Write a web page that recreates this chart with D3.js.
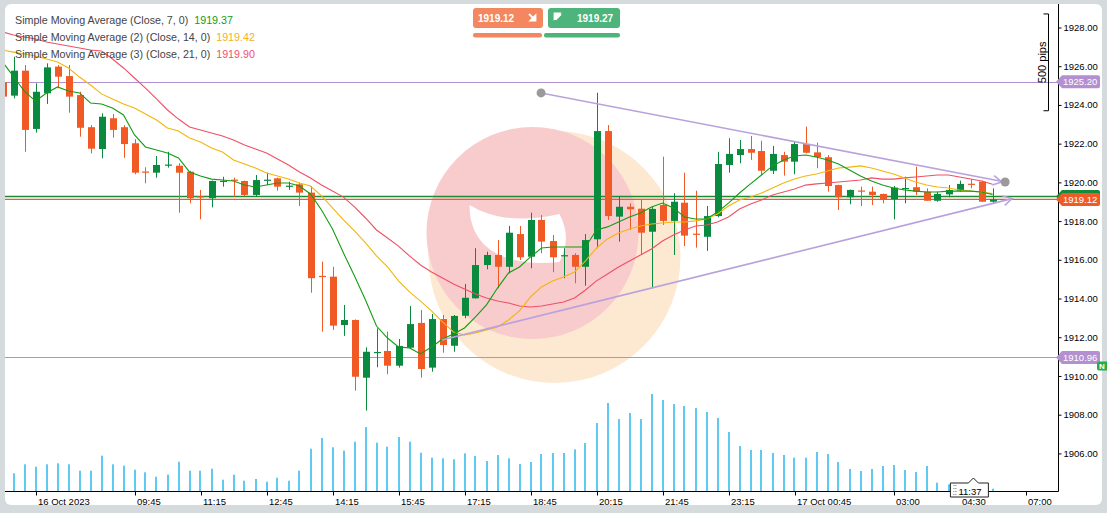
<!DOCTYPE html>
<html><head><meta charset="utf-8">
<script src="https://cdn.jsdelivr.net/npm/d3@7"></script>
<style>
html,body{margin:0;padding:0;background:#d5dadd;overflow:hidden;}
svg{display:block;font-family:"Liberation Sans",Arial,sans-serif;}
</style></head><body>
<svg id="c" width="1107" height="513"></svg>
<script>
// ---------- DATA ----------
const firstBar = -1; // index of first candle (partly hidden at left edge)
const opens  = [1925.17,1924.48,1925.77,1922.76,1924.60,1925.98,1925.49,1924.51,1922.85,1921.72,1923.31,1922.85,1922.02,1920.56,1920.50,1920.88,1920.86,1920.55,1919.28,1919.18,1920.05,1920.14,1920.07,1919.35,1920.10,1920.21,1919.80,1919.90,1919.47,1915.17,1915.13,1912.63,1912.89,1909.91,1911.20,1911.29,1910.53,1911.46,1912.74,1910.43,1912.94,1911.56,1913.11,1914.01,1915.73,1916.25,1915.64,1917.33,1916.16,1918.06,1916.97,1916.20,1916.25,1915.64,1917.06,1922.65,1918.23,1918.74,1918.64,1917.45,1918.83,1918.01,1918.95,1917.35,1917.19,1918.26,1920.90,1921.41,1921.72,1921.62,1920.60,1921.41,1921.07,1921.98,1921.55,1921.30,1919.86,1919.23,1919.58,1919.52,1919.40,1919.13,1919.68,1919.75,1919.52,1919.05,1919.38,1919.57,1919.93,1920.04,1919.00];
const highs  = [1925.40,1926.49,1926.06,1925.12,1926.15,1926.06,1926.06,1924.68,1922.96,1923.57,1923.53,1922.96,1922.23,1920.78,1921.36,1921.58,1920.99,1920.60,1919.61,1920.09,1920.29,1920.24,1920.09,1920.38,1920.50,1920.24,1920.03,1919.98,1919.81,1915.90,1915.64,1913.67,1912.92,1911.48,1912.46,1912.29,1911.91,1913.61,1913.41,1913.20,1913.15,1913.15,1914.75,1916.60,1916.42,1917.02,1917.75,1917.75,1918.43,1918.31,1917.28,1916.60,1916.34,1917.33,1924.63,1922.96,1919.26,1918.92,1919.09,1918.74,1921.33,1919.44,1920.50,1919.57,1918.78,1921.58,1922.28,1922.19,1922.40,1922.15,1921.88,1921.58,1922.14,1922.88,1922.05,1921.41,1919.88,1919.63,1919.78,1919.78,1919.42,1919.81,1920.29,1920.81,1919.69,1919.52,1919.86,1920.09,1920.16,1920.09,1919.69];
const lows   = [1924.30,1924.34,1921.58,1922.57,1924.05,1924.86,1923.60,1922.36,1921.50,1921.24,1922.31,1921.27,1920.42,1919.95,1920.24,1920.76,1918.43,1918.92,1918.09,1918.71,1919.78,1919.26,1919.30,1919.26,1919.86,1919.57,1919.61,1918.78,1914.30,1912.29,1912.38,1912.07,1909.24,1908.21,1910.45,1910.09,1910.43,1911.44,1909.91,1910.22,1911.20,1911.25,1912.98,1914.00,1915.51,1914.53,1915.30,1915.99,1915.56,1916.34,1915.36,1915.05,1914.79,1914.66,1916.60,1918.06,1916.94,1917.54,1916.25,1914.53,1917.80,1916.25,1916.71,1916.63,1916.46,1918.20,1920.50,1920.99,1921.16,1920.38,1920.43,1920.35,1920.42,1921.50,1920.73,1919.52,1918.57,1918.87,1918.78,1918.83,1918.92,1918.09,1918.92,1919.35,1919.05,1919.00,1919.23,1919.52,1919.69,1919.00,1918.88];
const closes = [1924.43,1925.77,1922.71,1924.68,1925.94,1925.46,1924.43,1922.82,1921.74,1923.39,1922.71,1921.98,1920.50,1920.53,1920.90,1920.92,1920.50,1919.18,1919.26,1920.07,1920.08,1920.12,1919.35,1920.12,1920.14,1919.78,1919.83,1919.47,1915.05,1915.14,1912.60,1912.89,1909.96,1911.25,1911.24,1910.53,1911.55,1912.68,1910.36,1912.94,1911.60,1913.10,1914.04,1915.73,1916.25,1915.64,1917.40,1916.13,1918.06,1916.94,1916.13,1916.24,1915.64,1917.02,1922.65,1918.26,1918.74,1918.61,1917.40,1918.63,1918.01,1919.00,1917.25,1917.32,1918.26,1920.95,1921.47,1921.72,1921.53,1920.60,1921.47,1921.07,1921.98,1921.53,1921.30,1919.81,1919.23,1919.61,1919.56,1919.35,1919.13,1919.73,1919.71,1919.52,1919.05,1919.40,1919.61,1919.92,1919.91,1919.00,1919.12];
const volumes = [150,177,267,243,267,277,267,203,203,353,267,253,213,187,143,163,293,203,203,223,113,163,103,120,93,133,103,203,423,530,437,403,493,640,483,443,540,493,383,333,327,317,377,350,300,360,327,270,290,370,380,380,417,480,680,880,720,780,720,970,910,870,850,830,790,730,590,450,410,410,380,360,333,333,390,370,290,220,200,220,250,260,210,190,250,83,67,50,40,50,23];
const sma7  = [1926.22,1925.47,1924.70,1924.20,1924.62,1924.93,1924.72,1924.62,1924.10,1924.05,1923.84,1923.48,1922.45,1921.83,1921.67,1921.52,1921.26,1920.54,1920.33,1920.17,1920.12,1920.07,1919.86,1919.76,1919.86,1919.97,1919.97,1919.81,1919.40,1918.57,1917.59,1916.35,1915.16,1913.92,1912.58,1911.96,1911.50,1911.45,1911.14,1911.50,1911.91,1912.17,1912.48,1913.05,1913.67,1914.54,1915.32,1915.63,1916.15,1916.61,1916.66,1916.66,1916.66,1916.66,1917.54,1917.70,1917.95,1918.21,1918.42,1918.73,1918.93,1918.68,1918.21,1918.11,1918.11,1918.47,1918.93,1919.45,1919.92,1920.38,1920.85,1921.16,1921.36,1921.41,1921.31,1921.16,1920.95,1920.64,1920.33,1920.07,1919.86,1919.71,1919.61,1919.55,1919.50,1919.50,1919.55,1919.55,1919.55,1919.50,1919.37];
const sma14 = [1926.84,1926.73,1926.63,1926.53,1926.37,1926.22,1925.91,1925.44,1925.03,1924.57,1924.31,1924.05,1923.84,1923.53,1923.22,1922.81,1922.65,1922.29,1922.09,1921.78,1921.57,1921.16,1920.95,1920.74,1920.48,1920.33,1920.17,1919.97,1919.81,1919.30,1918.68,1918.06,1917.49,1916.87,1916.20,1915.63,1914.91,1914.34,1913.87,1913.36,1912.79,1912.27,1912.12,1912.22,1912.38,1912.53,1912.89,1913.36,1914.08,1914.60,1914.91,1915.11,1915.37,1915.94,1916.61,1917.08,1917.39,1917.59,1917.75,1917.85,1917.90,1917.95,1917.95,1918.01,1918.11,1918.37,1918.78,1919.09,1919.24,1919.45,1919.71,1919.97,1920.17,1920.33,1920.43,1920.59,1920.74,1920.79,1920.85,1920.74,1920.59,1920.43,1920.23,1920.02,1919.86,1919.76,1919.71,1919.61,1919.55,1919.50,1919.42];
const sma21 = [1927.77,1927.61,1927.51,1927.41,1927.25,1927.15,1927.04,1926.94,1926.84,1926.79,1926.37,1925.91,1925.39,1924.87,1924.31,1923.74,1923.27,1922.86,1922.71,1922.55,1922.40,1922.19,1921.93,1921.72,1921.52,1921.21,1920.90,1920.54,1920.23,1919.86,1919.55,1919.24,1918.73,1918.16,1917.54,1917.13,1916.71,1916.20,1915.73,1915.37,1915.06,1914.75,1914.49,1914.23,1914.03,1913.87,1913.77,1913.61,1913.56,1913.61,1913.72,1913.82,1914.03,1914.44,1914.91,1915.27,1915.63,1915.94,1916.25,1916.56,1916.97,1917.28,1917.54,1917.75,1917.80,1917.95,1918.21,1918.62,1918.88,1919.09,1919.35,1919.50,1919.66,1919.86,1919.92,1919.97,1920.02,1920.07,1920.12,1920.23,1920.17,1920.17,1920.23,1920.28,1920.33,1920.38,1920.38,1920.28,1920.17,1920.07,1919.90];
const tickBars   = [2,11,17,23,29,35,41,47,53,59,65,71,80,86,92];
const tickLabels = ["16 Oct 2023","09:45","11:15","12:45","14:15","15:45","17:15","18:45","20:15","21:45","23:15","17 Oct 00:45","03:00","04:30","07:00"];
const priceTicks = [1906,1908,1910,1912,1914,1916,1918,1920,1922,1924,1926,1928];
const legendNames  = ["Simple Moving Average (Close, 7, 0)","Simple Moving Average (2) (Close, 14, 0)","Simple Moving Average (3) (Close, 21, 0)"];
const legendValues = [1919.37,1919.42,1919.90];
const bidPrice = 1919.12, askPrice = 1919.27;
const levelPrices = [1925.20, 1910.96];
const trendUpper = [[47.96,1924.62],[90.15,1920.02]];
const trendLower = [[38.94,1911.86],[90.78,1919.16]];
const pipsBar = 94, pipsRange = [1923.70,1928.70], pipsLabel = "500 pips";
const currentTime = "11:37", currentTimeBar = 86.9;

// ---------- STYLE ----------
const C = {up:"#0a8a3e", down:"#f15a24", vol:"#2cb8ee", g:"#139c13", y:"#f2b60c", r:"#ef5065",
           level:"#b390d0", trend:"#b9a2dc", ask:"#1d8c3a", bid:"#f05a26"};
const W=1107,H=513, L=5, R=1058, T=4, B=491;

const svg = d3.select("#c");
svg.append("rect").attr("x",5).attr("y",4).attr("width",1097).attr("height",501).attr("rx",6).attr("fill","#fff");

const xs = d3.scaleLinear().domain([0,92]).range([13.5,1025.5]);
const ys = d3.scaleLinear().domain([1906,1928]).range([453.4,27.5]);
const vs = d3.scaleLinear().domain([0,1000]).range([B,B-100]);
const bars = d3.range(opens.length).map(k=>firstBar+k);

svg.append("clipPath").attr("id","clip").append("rect").attr("x",L).attr("y",T).attr("width",R-L).attr("height",B-T);
const plot = svg.append("g").attr("clip-path","url(#clip)");

// watermark logo (decoration)
const lg = plot.append("g").attr("opacity",0.95);
const lcx = (L+R)/2+23, lcy = 257;
lg.append("circle").attr("cx",lcx).attr("cy",lcy).attr("r",126).attr("fill","#fde7cf");
lg.append("circle").attr("cx",lcx-22).attr("cy",lcy-24).attr("r",106).attr("fill","#f8c9cb");
lg.append("path").attr("fill","#fff")
  .attr("d",`M${lcx-85},${lcy-52} C${lcx-85},${lcy-5} ${lcx-45},${lcy+10} ${lcx+5},${lcy+5} Q${lcx+18},${lcy-18} ${lcx+5},${lcy-43} C${lcx-30},${lcy-35} ${lcx-60},${lcy-37} ${lcx-85},${lcy-52}Z`);

// volume
plot.selectAll(".v").data(bars).enter().append("rect")
  .attr("x",d=>Math.round(xs(d))-0.75).attr("width",1.5)
  .attr("y",(d,k)=>vs(volumes[k])).attr("height",(d,k)=>B-vs(volumes[k]))
  .attr("fill",C.vol);

// horizontal levels
levelPrices.forEach(p=>{
  plot.append("line").attr("x1",L).attr("x2",R).attr("y1",Math.round(ys(p))+0.5).attr("y2",Math.round(ys(p))+0.5)
    .attr("stroke",C.level).attr("stroke-width",1.2);
});
[[askPrice,C.ask],[bidPrice,C.bid]].forEach(([p,c])=>{
  plot.append("line").attr("x1",L).attr("x2",R).attr("y1",ys(p)).attr("y2",ys(p)).attr("stroke",c).attr("stroke-width",1.4);
});

// candles
const cg = plot.append("g");
bars.forEach((b,k)=>{
  const o=opens[k],h=highs[k],l=lows[k],c=closes[k];
  const col = c>=o?C.up:C.down;
  const cx = Math.round(xs(b))+0.5;
  cg.append("line").attr("x1",cx).attr("x2",cx).attr("y1",ys(h)).attr("y2",ys(l)).attr("stroke",col).attr("stroke-width",1);
  const top = ys(Math.max(o,c)), bot = ys(Math.min(o,c));
  cg.append("rect").attr("x",cx-3.5).attr("width",7).attr("y",top).attr("height",Math.max(1.2,bot-top)).attr("fill",col);
});

// moving averages
const line = d3.line().x((d,k)=>xs(firstBar+k)).y(d=>ys(d));
[[sma21,C.r],[sma14,C.y],[sma7,C.g]].forEach(([a,c])=>{
  plot.append("path").attr("d",line(a)).attr("fill","none").attr("stroke",c).attr("stroke-width",1.1);
});

// trend lines
function chevron(p0,p1,c){
  const x0=xs(p0[0]),y0=ys(p0[1]),x1=xs(p1[0]),y1=ys(p1[1]);
  const a=Math.atan2(y1-y0,x1-x0), len=10, sp=0.5;
  plot.append("path").attr("d",`M${x1-len*Math.cos(a-sp)},${y1-len*Math.sin(a-sp)} L${x1},${y1} L${x1-len*Math.cos(a+sp)},${y1-len*Math.sin(a+sp)}`)
    .attr("fill","none").attr("stroke",c).attr("stroke-width",1.5);
}
[trendUpper,trendLower].forEach(t=>{
  plot.append("line").attr("x1",xs(t[0][0])).attr("y1",ys(t[0][1])).attr("x2",xs(t[1][0])).attr("y2",ys(t[1][1]))
    .attr("stroke",C.trend).attr("stroke-width",1.6);
});
chevron(trendUpper[0],[trendUpper[1][0]-0.3,trendUpper[1][1]+0.0],C.trend);
chevron(trendLower[0],trendLower[1],C.trend);
[trendUpper[0],trendUpper[1]].forEach(p=>{
  plot.append("circle").attr("cx",xs(p[0])).attr("cy",ys(p[1])).attr("r",4.5).attr("fill","#9a9a9a");
});

// pips bracket
const px = Math.round(xs(pipsBar))+0.5;
plot.append("path").attr("d",`M${px-5},${ys(pipsRange[1])} H${px} V${ys(pipsRange[0])} H${px-5}`)
  .attr("fill","none").attr("stroke","#000").attr("stroke-width",1);
plot.append("text").attr("transform",`translate(${px-3},${(ys(pipsRange[0])+ys(pipsRange[1]))/2}) rotate(-90)`)
  .attr("text-anchor","middle").attr("font-size",11).attr("fill","#000").text(pipsLabel);

// legend
legendNames.forEach((n,k)=>{
  const t = svg.append("text").attr("x",15).attr("y",24+k*17).attr("font-size",10.7).attr("fill","#444").text(n);
  const w = t.node().getComputedTextLength();
  svg.append("text").attr("x",15+w+6).attr("y",24+k*17).attr("font-size",10.7)
    .attr("fill",[C.g,"#f3b01e","#f0506e"][k]).text(legendValues[k].toFixed(2));
});

// top buttons
svg.append("rect").attr("x",473).attr("y",8).attr("width",70).attr("height",20).attr("rx",3).attr("fill","#f4875f");
svg.append("rect").attr("x",548).attr("y",8).attr("width",72).attr("height",20).attr("rx",3).attr("fill","#4db47b");
svg.append("text").attr("x",478).attr("y",22).attr("font-size",10).attr("font-weight","bold").attr("fill","#fff").text(bidPrice.toFixed(2));
svg.append("text").attr("x",577).attr("y",22).attr("font-size",10).attr("font-weight","bold").attr("fill","#fff").text(askPrice.toFixed(2));
svg.append("path").attr("d","M529,14 L534.5,19.5 M535.5,15.5 L535.5,20.5 L530.5,20.5Z").attr("stroke","#fff").attr("stroke-width",1.8).attr("fill","#fff");
svg.append("path").attr("d","M561,14 L555.5,19.5 M554.5,13.5 L559.5,13.5 L554.5,18.5Z").attr("stroke","#fff").attr("stroke-width",1.8).attr("fill","#fff");
svg.append("rect").attr("x",473).attr("y",33).attr("width",69).attr("height",4.5).attr("rx",2).attr("fill","#f4875f");
svg.append("rect").attr("x",544).attr("y",33).attr("width",76).attr("height",4.5).attr("rx",2).attr("fill","#4db47b");

// axes
svg.append("line").attr("x1",R+0.5).attr("x2",R+0.5).attr("y1",T).attr("y2",B+0.5).attr("stroke","#000");
svg.append("line").attr("x1",L).attr("x2",R+0.5).attr("y1",B+0.5).attr("y2",B+0.5).attr("stroke","#000");
const ya = svg.append("g").attr("transform",`translate(${R+0.5},0)`)
  .call(d3.axisRight(ys).tickValues(priceTicks).tickSize(3).tickPadding(2).tickFormat(d3.format(".2f")));
ya.select(".domain").remove();
ya.selectAll("text").attr("font-size",9.5).attr("font-family","Liberation Sans, Arial").attr("fill","#000");
const xa = svg.append("g").attr("transform",`translate(0,${B+0.5})`)
  .call(d3.axisBottom(xs).tickValues(tickBars).tickSize(4).tickPadding(3).tickFormat((d,k)=>tickLabels[k]));
xa.select(".domain").remove();
xa.selectAll(".tick line").attr("transform","translate(0.5,0)");
xa.selectAll("text").attr("font-size",9.5).attr("font-family","Liberation Sans, Arial").attr("fill","#000").attr("text-anchor","start").attr("x",2);

// price labels on right axis
function priceTag(p,fill,txt){
  const cy = ys(p);
  svg.append("path").attr("d",`M${R-2},${cy} L${R+4},${cy-6.5} H${R+40} Q${R+42},${cy-6.5} ${R+42},${cy-4.5} V${cy+4.5} Q${R+42},${cy+6.5} ${R+40},${cy+6.5} H${R+4} Z`).attr("fill",fill);
  svg.append("text").attr("x",R+5).attr("y",cy+3.4).attr("font-size",9.5).attr("fill","#fff").text(txt);
}
levelPrices.forEach(p=>priceTag(p,C.level,p.toFixed(2)));
priceTag(askPrice,"#168a3a",askPrice.toFixed(2));
priceTag(bidPrice,C.bid,bidPrice.toFixed(2));
// "N" tag at right edge
svg.append("rect").attr("x",1097).attr("y",ys(1910.96)+4).attr("width",14).attr("height",9).attr("rx",2).attr("fill","#1fae4c");
svg.append("text").attr("x",1099).attr("y",ys(1910.96)+11.5).attr("font-size",8).attr("font-weight","bold").attr("fill","#fff").text("N");

// current time tag
const tx = xs(currentTimeBar);
svg.append("path").attr("d",`M${tx-19},${B-8} H${tx-1} L${tx+4},${B-13} L${tx+9},${B-8} H${tx+19} V${B+6} H${tx-19} Z`)
  .attr("fill","#fff").attr("stroke","#222").attr("stroke-width",1);
for(let r=0;r<4;r++)for(let c=0;c<2;c++)
  svg.append("rect").attr("x",tx-16+c*2).attr("y",B-6+r*3).attr("width",1).attr("height",1).attr("fill","#777");
svg.append("text").attr("x",tx-11).attr("y",B+3.5).attr("font-size",9.5).attr("fill","#000").text(currentTime);
</script>
</body></html>
